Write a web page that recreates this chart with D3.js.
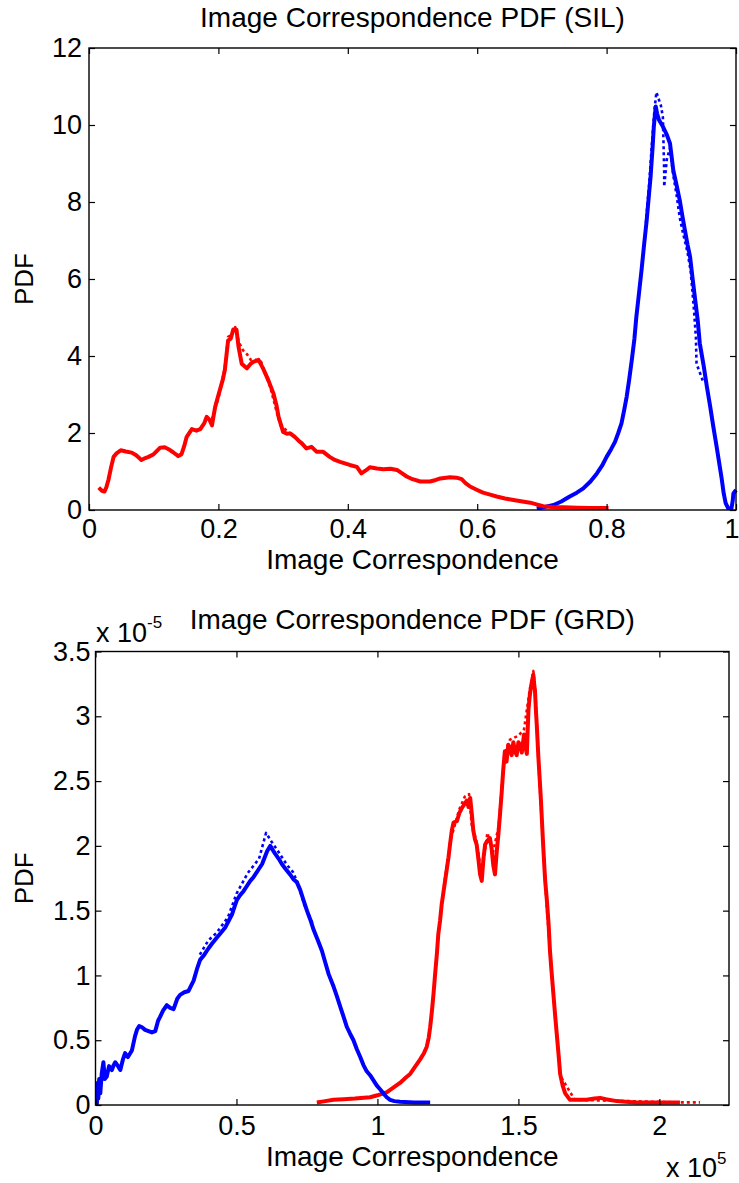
<!DOCTYPE html>
<html>
<head>
<meta charset="utf-8">
<script src="https://cdn.jsdelivr.net/npm/d3@7"></script>
<style>
  body { margin: 0; background: #fff; }
  svg { display: block; font-family: "Liberation Sans", Arial, sans-serif; }
</style>
</head>
<body>
<svg id="chart" width="739" height="1183"></svg>
<script>
// tick values
const silTicksX = [0, 0.2, 0.4, 0.6, 0.8, 1];
const silTicksY = [0, 2, 4, 6, 8, 10, 12];
const grdTicksX = [0, 0.5, 1, 1.5, 2];      // x 10^5
const grdTicksY = [0, 0.5, 1, 1.5, 2, 2.5, 3, 3.5]; // x 10^-5

// SIL: [correspondence, pdf]
const silRed = [[0.015,0.58],[0.020,0.50],[0.024,0.48],[0.027,0.60],[0.030,0.78],[0.034,1.10],[0.038,1.38],[0.043,1.48],[0.049,1.55],[0.057,1.52],[0.066,1.49],[0.073,1.42],[0.081,1.30],[0.087,1.35],[0.092,1.38],[0.100,1.45],[0.110,1.62],[0.117,1.63],[0.123,1.58],[0.130,1.50],[0.138,1.40],[0.143,1.45],[0.147,1.65],[0.151,1.90],[0.159,2.10],[0.166,2.06],[0.172,2.10],[0.178,2.25],[0.182,2.42],[0.186,2.35],[0.190,2.20],[0.195,2.68],[0.202,3.10],[0.207,3.40],[0.210,3.64],[0.213,4.10],[0.215,4.40],[0.219,4.45],[0.223,4.69],[0.228,4.68],[0.231,4.25],[0.236,3.80],[0.244,3.68],[0.250,3.80],[0.254,3.85],[0.262,3.90],[0.269,3.68],[0.277,3.38],[0.285,3.03],[0.290,2.70],[0.293,2.42],[0.300,2.03],[0.306,1.98],[0.311,1.99],[0.318,1.90],[0.324,1.80],[0.329,1.73],[0.336,1.60],[0.344,1.64],[0.352,1.51],[0.362,1.51],[0.372,1.38],[0.380,1.30],[0.388,1.25],[0.403,1.17],[0.414,1.12],[0.421,0.95],[0.429,1.04],[0.434,1.11],[0.445,1.08],[0.455,1.06],[0.466,1.07],[0.476,1.04],[0.484,0.95],[0.491,0.87],[0.500,0.80],[0.512,0.74],[0.527,0.74],[0.536,0.78],[0.543,0.82],[0.558,0.85],[0.568,0.84],[0.576,0.80],[0.582,0.70],[0.589,0.61],[0.600,0.52],[0.609,0.45],[0.620,0.40],[0.630,0.35],[0.643,0.30],[0.656,0.26],[0.670,0.22],[0.682,0.19],[0.693,0.14],[0.702,0.10],[0.715,0.08],[0.733,0.07],[0.755,0.06],[0.774,0.05],[0.803,0.05]];
const silRedDots = [[0.190,2.35],[0.200,2.90],[0.210,3.70],[0.215,4.50],[0.220,4.55],[0.226,4.75],[0.232,4.35],[0.238,4.15],[0.244,4.05],[0.250,3.90],[0.258,3.90],[0.266,3.85],[0.273,3.50],[0.280,3.20],[0.290,2.55],[0.296,2.20],[0.310,2.00]];
const silBlue = [[0.692,0.04],[0.705,0.08],[0.718,0.13],[0.730,0.22],[0.743,0.35],[0.754,0.45],[0.764,0.56],[0.775,0.74],[0.785,0.95],[0.793,1.15],[0.800,1.38],[0.807,1.58],[0.813,1.77],[0.818,2.00],[0.823,2.25],[0.827,2.58],[0.831,2.94],[0.835,3.40],[0.839,3.90],[0.843,4.45],[0.846,5.02],[0.850,5.62],[0.854,6.23],[0.858,6.90],[0.862,7.53],[0.865,8.10],[0.868,8.66],[0.871,9.40],[0.873,9.96],[0.876,10.48],[0.878,10.30],[0.881,10.13],[0.887,9.96],[0.893,9.75],[0.898,9.52],[0.903,8.83],[0.908,8.45],[0.913,8.05],[0.917,7.65],[0.921,7.27],[0.925,6.90],[0.929,6.58],[0.933,6.00],[0.937,5.45],[0.941,4.90],[0.944,4.33],[0.950,3.75],[0.955,3.20],[0.960,2.70],[0.965,2.16],[0.970,1.65],[0.975,1.12],[0.978,0.80],[0.981,0.43],[0.984,0.18],[0.988,0.04],[0.993,0.04],[0.995,0.25],[0.996,0.43],[1.000,0.52]];
const silBlueDots = [[0.860,7.30],[0.866,8.50],[0.870,9.50],[0.874,10.40],[0.877,10.85],[0.880,10.70],[0.884,10.50],[0.887,10.20],[0.888,9.50],[0.889,8.80],[0.889,8.40],[0.893,9.10],[0.898,9.40],[0.903,8.70],[0.908,8.20],[0.913,7.60],[0.918,7.20],[0.925,6.70],[0.930,6.20],[0.935,5.20],[0.938,4.50],[0.939,3.80],[0.950,3.30]];

// GRD: [correspondence x 10^5, pdf x 10^-5]
const grdBlue = [[0.000,0.00],[0.005,0.01],[0.007,0.17],[0.010,0.05],[0.013,0.20],[0.017,0.09],[0.022,0.24],[0.028,0.33],[0.033,0.20],[0.040,0.22],[0.048,0.30],[0.058,0.27],[0.065,0.31],[0.070,0.33],[0.080,0.30],[0.088,0.27],[0.097,0.35],[0.105,0.40],[0.115,0.37],[0.129,0.42],[0.140,0.53],[0.147,0.58],[0.155,0.61],[0.165,0.60],[0.176,0.58],[0.188,0.57],[0.200,0.56],[0.212,0.57],[0.222,0.65],[0.229,0.68],[0.240,0.73],[0.253,0.77],[0.265,0.75],[0.277,0.74],[0.290,0.82],[0.300,0.85],[0.315,0.87],[0.330,0.88],[0.348,0.96],[0.360,1.05],[0.371,1.12],[0.386,1.16],[0.401,1.21],[0.415,1.25],[0.430,1.29],[0.445,1.33],[0.460,1.37],[0.472,1.42],[0.484,1.47],[0.493,1.53],[0.501,1.58],[0.513,1.62],[0.525,1.65],[0.537,1.69],[0.549,1.73],[0.561,1.76],[0.576,1.81],[0.591,1.86],[0.600,1.91],[0.609,1.96],[0.620,2.00],[0.628,1.97],[0.637,1.94],[0.650,1.90],[0.661,1.86],[0.675,1.82],[0.690,1.78],[0.703,1.74],[0.714,1.72],[0.726,1.66],[0.738,1.58],[0.750,1.50],[0.762,1.43],[0.774,1.35],[0.789,1.27],[0.803,1.19],[0.815,1.10],[0.827,1.01],[0.845,0.91],[0.856,0.84],[0.868,0.76],[0.880,0.68],[0.892,0.60],[0.903,0.55],[0.915,0.50],[0.927,0.43],[0.939,0.37],[0.950,0.31],[0.962,0.26],[0.974,0.23],[0.986,0.19],[0.998,0.15],[1.010,0.12],[1.021,0.09],[1.033,0.06],[1.045,0.04],[1.060,0.03],[1.080,0.025],[1.130,0.02],[1.187,0.02]];
const grdBlueDots = [[0.370,1.16],[0.400,1.27],[0.430,1.33],[0.470,1.45],[0.500,1.63],[0.540,1.79],[0.580,1.90],[0.605,2.10],[0.625,2.03],[0.650,1.95],[0.680,1.85],[0.700,1.80],[0.720,1.70],[0.740,1.55],[0.770,1.40]];
const grdRed = [[0.785,0.02],[0.815,0.03],[0.844,0.04],[0.880,0.045],[0.920,0.05],[0.974,0.06],[1.000,0.075],[1.034,0.10],[1.060,0.14],[1.080,0.17],[1.100,0.21],[1.116,0.24],[1.135,0.30],[1.151,0.35],[1.165,0.40],[1.175,0.45],[1.182,0.52],[1.187,0.60],[1.193,0.72],[1.199,0.86],[1.205,1.02],[1.211,1.17],[1.216,1.32],[1.222,1.42],[1.228,1.55],[1.234,1.64],[1.240,1.73],[1.246,1.82],[1.252,1.91],[1.258,2.02],[1.264,2.12],[1.270,2.18],[1.282,2.19],[1.290,2.25],[1.299,2.29],[1.308,2.32],[1.317,2.35],[1.323,2.30],[1.329,2.37],[1.335,2.24],[1.340,2.12],[1.346,2.05],[1.352,2.01],[1.358,1.90],[1.364,1.78],[1.370,1.73],[1.376,1.90],[1.382,2.01],[1.390,2.04],[1.399,2.06],[1.405,1.98],[1.411,1.85],[1.417,1.78],[1.423,1.95],[1.429,2.09],[1.435,2.25],[1.441,2.42],[1.446,2.58],[1.452,2.73],[1.458,2.65],[1.464,2.78],[1.470,2.76],[1.476,2.70],[1.482,2.80],[1.488,2.73],[1.494,2.70],[1.500,2.80],[1.506,2.78],[1.512,2.72],[1.520,2.86],[1.526,2.75],[1.530,2.71],[1.533,2.90],[1.536,3.06],[1.540,3.15],[1.544,3.22],[1.549,3.28],[1.553,3.32],[1.556,3.25],[1.559,3.19],[1.562,3.05],[1.565,2.94],[1.571,2.68],[1.576,2.50],[1.580,2.35],[1.587,2.04],[1.591,1.88],[1.595,1.73],[1.601,1.58],[1.607,1.40],[1.612,1.19],[1.618,1.02],[1.624,0.86],[1.630,0.70],[1.636,0.55],[1.642,0.40],[1.648,0.24],[1.657,0.15],[1.666,0.09],[1.683,0.04],[1.710,0.04],[1.742,0.04],[1.770,0.05],[1.790,0.055],[1.810,0.045],[1.849,0.03],[1.880,0.025],[1.920,0.02],[2.000,0.02],[2.073,0.02]];
const grdRedDots = [[1.230,1.60],[1.260,2.05],[1.290,2.28],[1.310,2.38],[1.325,2.40],[1.335,2.15],[1.350,2.05],[1.370,1.78],[1.390,2.10],[1.410,1.95],[1.430,2.15],[1.450,2.70],[1.470,2.82],[1.500,2.85],[1.520,2.90],[1.540,3.20],[1.553,3.35],[1.560,3.20],[1.570,2.70],[1.580,2.30],[1.600,1.55],[1.620,0.95],[1.650,0.22],[1.700,0.04],[2.073,0.02],[2.100,0.02],[2.144,0.02]];

const svg = d3.select('#chart');
svg.append('rect').attr('width', 739).attr('height', 1183).attr('fill', '#fff');

const panels = [
  { title: 'Image Correspondence PDF (SIL)', left: 89, right: 736, top: 48, bottom: 510,
    xDomain: [0, 1], yDomain: [0, 12], ticksX: silTicksX, ticksY: silTicksY,
    padX: 9, padY: 7, titleY: 27, xLabelY: 569,
    series: [[silBlue, '#0000ff', false], [silBlueDots, '#0000ff', true], [silRed, '#ff0000', false], [silRedDots, '#ff0000', true]] },
  { title: 'Image Correspondence PDF (GRD)', left: 95.5, right: 729, top: 651.5, bottom: 1105,
    xDomain: [0, 2.247], yDomain: [0, 3.5], ticksX: grdTicksX, ticksY: grdTicksY,
    padX: 11, padY: 5, titleY: 629, xLabelY: 1166,
    series: [[grdRed, '#ff0000', false], [grdRedDots, '#ff0000', true], [grdBlue, '#0000ff', false], [grdBlueDots, '#0000ff', true]] }
];

const fmt = d3.format('~g');

panels.forEach((p, i) => {
  const x = d3.scaleLinear().domain(p.xDomain).range([p.left, p.right]);
  const y = d3.scaleLinear().domain(p.yDomain).range([p.bottom, p.top]);
  const g = svg.append('g');
  const clipId = `clip${i}`;
  g.append('clipPath').attr('id', clipId).append('rect')
    .attr('x', p.left).attr('y', p.top - 2).attr('width', p.right - p.left + 2).attr('height', p.bottom - p.top + 2);

  const line = d3.line().x(d => x(d[0])).y(d => y(d[1]));
  const plot = g.append('g').attr('clip-path', `url(#${clipId})`);
  p.series.forEach(([data, color, dotted]) => {
    plot.append('path').datum(data).attr('d', line)
      .attr('fill', 'none').attr('stroke', color)
      .attr('stroke-width', dotted ? 2.6 : 4)
      .attr('stroke-linejoin', 'round')
      .attr('stroke-dasharray', dotted ? '3,3' : null);
  });

  const styleAxis = sel => {
    sel.select('.domain').remove();
    sel.selectAll('.tick line').attr('stroke', '#000').attr('stroke-width', 1.2);
    sel.selectAll('.tick text').attr('fill', '#000').attr('font-size', 27).attr('font-family', null);
  };
  const xAxis = g.append('g').attr('transform', `translate(0,${p.bottom})`)
    .call(d3.axisBottom(x).tickValues(p.ticksX).tickFormat(fmt).tickSizeInner(-6).tickSizeOuter(0).tickPadding(p.padX)).call(styleAxis);
  // keep a label sitting on the page's right edge inside the picture
  xAxis.selectAll('.tick text').attr('dx', d => x(d) + 8 > 739 ? -4.5 : null);
  g.append('g').attr('transform', `translate(0,${p.top})`)
    .call(d3.axisTop(x).tickValues(p.ticksX).tickFormat('').tickSizeInner(-6).tickSizeOuter(0)).call(styleAxis);
  g.append('g').attr('transform', `translate(${p.left},0)`)
    .call(d3.axisLeft(y).tickValues(p.ticksY).tickFormat(fmt).tickSizeInner(-6).tickSizeOuter(0).tickPadding(p.padY)).call(styleAxis);
  g.append('g').attr('transform', `translate(${p.right},0)`)
    .call(d3.axisRight(y).tickValues(p.ticksY).tickFormat('').tickSizeInner(-6).tickSizeOuter(0)).call(styleAxis);

  g.append('rect').attr('x', p.left).attr('y', p.top)
    .attr('width', p.right - p.left).attr('height', p.bottom - p.top)
    .attr('fill', 'none').attr('stroke', '#000').attr('stroke-width', 1.4);

  const cx = (p.left + p.right) / 2;
  g.append('text').attr('x', cx).attr('y', p.titleY).attr('text-anchor', 'middle')
    .attr('font-size', 28).text(p.title);
  g.append('text').attr('x', cx).attr('y', p.xLabelY).attr('text-anchor', 'middle')
    .attr('font-size', 28).text('Image Correspondence');
  g.append('text').attr('transform', `translate(33,${(p.top + p.bottom) / 2}) rotate(-90)`)
    .attr('text-anchor', 'middle').attr('font-size', 26).text('PDF');
});

// exponent labels of the GRD panel
const yExp = svg.append('text').attr('x', 96).attr('y', 642).attr('font-size', 27);
yExp.append('tspan').text('x 10');
yExp.append('tspan').attr('font-size', 17).attr('dy', -14).text('-5');
const xExp = svg.append('text').attr('x', 666).attr('y', 1177).attr('font-size', 27);
xExp.append('tspan').text('x 10');
xExp.append('tspan').attr('font-size', 17).attr('dy', -13).text('5');
</script>
</body>
</html>
